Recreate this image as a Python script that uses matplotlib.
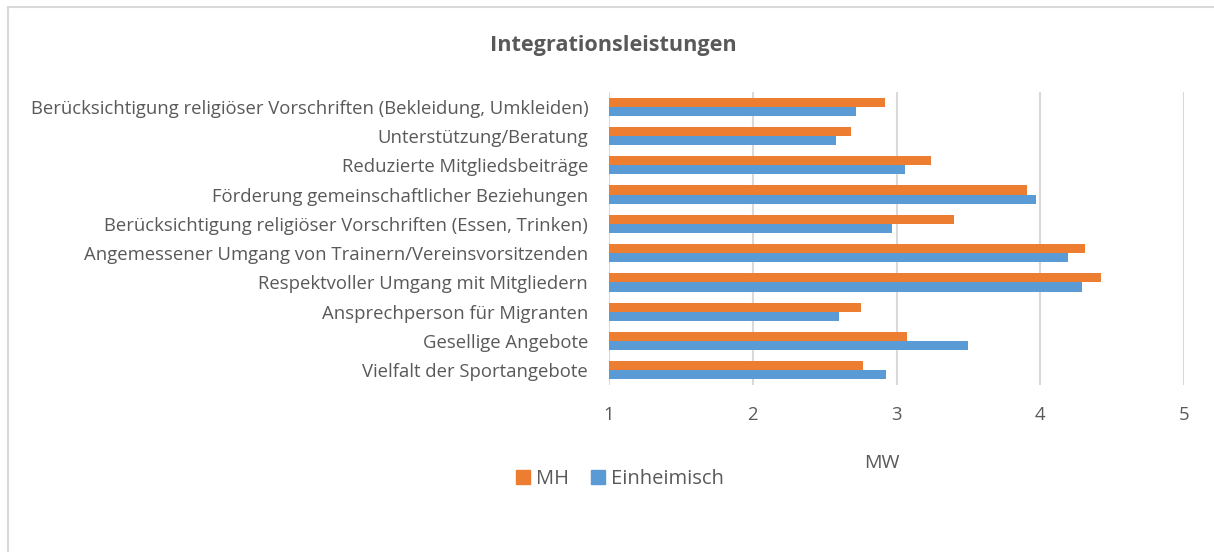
import numpy as np
import matplotlib.pyplot as plt
from matplotlib.patches import Rectangle, Patch

plt.rcParams['font.family'] = 'Open Sans'

#data (bottom to top)
categories = ["Vielfalt der Sportangebote",
              "Gesellige Angebote",
              "Ansprechperson für Migranten",
              "Respektvoller Umgang mit Mitgliedern",
              "Angemessener Umgang von Trainern/Vereinsvorsitzenden",
              "Berücksichtigung religiöser Vorschriften (Essen, Trinken)",
              "Förderung gemeinschaftlicher Beziehungen",
              "Reduzierte Mitgliedsbeiträge",
              "Unterstützung/Beratung",
              "Berücksichtigung religiöser Vorschriften (Bekleidung, Umkleiden)"]
mh = [2.77, 3.07, 2.75, 4.42, 4.31, 3.40, 3.91, 3.24, 2.68, 2.92]
einheimisch = [2.93, 3.50, 2.60, 4.29, 4.19, 2.97, 3.97, 3.06, 2.58, 2.72]
xticks = [1, 2, 3, 4, 5]

grey = "#595959"
fig = plt.figure(figsize=(12.14, 5.52), dpi=100)
#chart border
fig.patches.append(Rectangle((8/1214, -0.1), 1.2, 1.1 - 7/552, transform=fig.transFigure,
                             fill=False, edgecolor="#d9d9d9", linewidth=1.5))

ax = fig.add_axes([609/1214, 1-385/552, 575/1214, 293/552])
y = np.arange(len(categories))
h = 0.31
ax.barh(y + h/2, np.array(mh) - 1, left=1, height=h, color="#ED7D31", label="MH", zorder=3)
ax.barh(y - h/2, np.array(einheimisch) - 1, left=1, height=h, color="#5B9BD5", label="Einheimisch", zorder=3)

ax.set_xlim(1, 5)
ax.set_ylim(-0.5, 9.5)
ax.set_xticks(xticks)
ax.set_xticklabels([str(t) for t in xticks])
ax.set_yticks(y)
ax.set_yticklabels(categories)
ax.tick_params(axis='both', length=0, colors=grey, labelsize=13.3)
ax.tick_params(axis='x', pad=15)
ax.tick_params(axis='y', pad=15)
ax.grid(axis='x', color="#d9d9d9", linewidth=1.5, zorder=0)
for s in ax.spines.values():
    s.set_visible(False)

fig.text(613/1214, 1-45/552, "Integrationsleistungen", ha='center', va='center',
         fontsize=15.6, fontweight='bold', color=grey)
fig.text(882/1214, 1-463/552, "MW", ha='center', va='center', fontsize=14, color=grey)

handles = [Patch(color="#ED7D31"), Patch(color="#5B9BD5")]
fig.legend(handles, ["MH", "Einheimisch"], loc='center', bbox_to_anchor=(620/1214, 1-479/552),
           ncol=2, frameon=False, fontsize=14.5, labelcolor=grey, handlelength=0.7,
           handleheight=0.7, handletextpad=0.3, columnspacing=1.1)

plt.savefig("out.png", dpi=100)
